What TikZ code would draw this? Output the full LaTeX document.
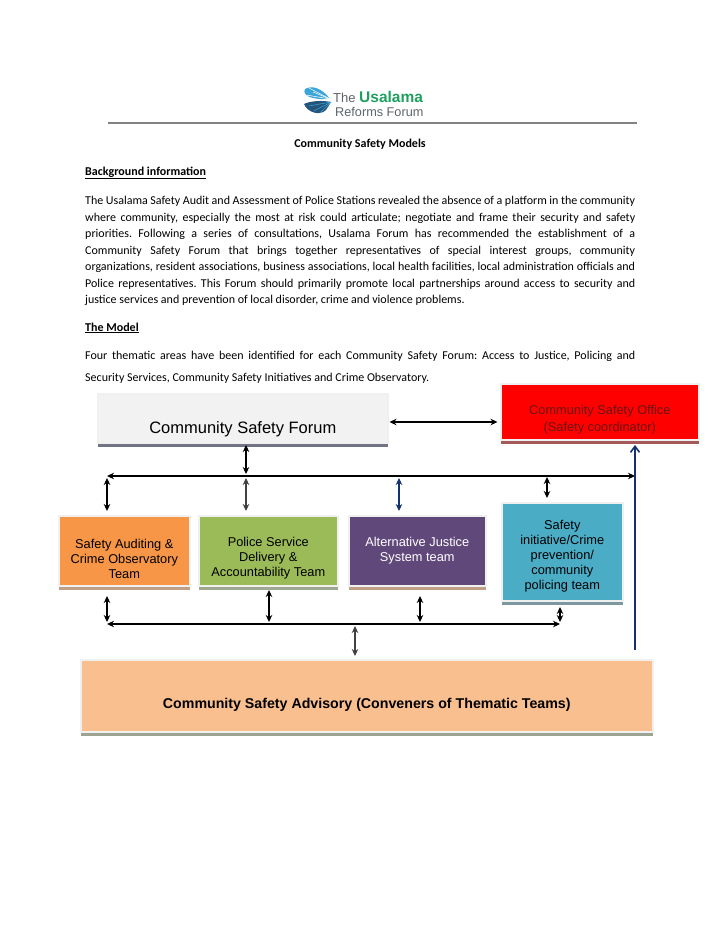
\documentclass[tikz,border=0pt]{standalone}
\usepackage{fontspec}
\setmainfont{Carlito}
\newfontfamily\boxfont{Liberation Sans}
\usetikzlibrary{positioning, calc, arrows.meta, shadows}
\definecolor{logogreen}{RGB}{30,160,95}
\definecolor{logogray}{RGB}{95,100,105}
\definecolor{logoblue}{RGB}{60,165,215}
\definecolor{logonavy}{RGB}{35,85,125}
\definecolor{rulegray}{RGB}{130,130,130}
\definecolor{forumgray}{RGB}{242,242,242}
\definecolor{officered}{RGB}{255,0,0}
\definecolor{officetext}{RGB}{105,20,20}
\definecolor{auditorange}{RGB}{247,150,70}
\definecolor{policegreen}{RGB}{155,187,89}
\definecolor{justicepurple}{RGB}{96,73,122}
\definecolor{initiativeblue}{RGB}{75,172,198}
\definecolor{advisorypeach}{RGB}{250,191,143}
\definecolor{linknavy}{RGB}{20,50,110}
\definecolor{linkgray}{RGB}{65,65,65}
\tikzset{
  bodytext/.style={anchor=north west, text width=550pt, align=justify, inner sep=0pt,
    font=\fontsize{12}{16.5}\selectfont\frenchspacing},
  headtext/.style={anchor=west, inner sep=0pt, font=\fontsize{12}{14}\selectfont\bfseries},
  teambox/.style={draw=black!6, line width=1.6pt, anchor=north west, align=center, inner sep=1pt,
    font=\boxfont\fontsize{12.8}{15}\selectfont},
  boxshadow/.style={drop shadow={shadow xshift=0pt, shadow yshift=-4.5pt, fill=#1, opacity=1}},
  twoway/.style={{Stealth[length=7pt,width=6.5pt]}-{Stealth[length=7pt,width=6.5pt]}, line width=1.1pt, draw=black},
  logofan/.style={fill=logoblue, draw=none},
  logofan2/.style={fill=logonavy, draw=none}
}
\begin{document}
\begin{tikzpicture}[x=1pt, y=-1pt]
  \useasboundingbox (0,0) rectangle (720,932);
  % letterhead
  \path[logofan] (330,99) .. controls (322,88) and (312,85) .. (305,89) .. controls (302,95) and (310,100) .. (330,99);
  \path[logofan2] (331,102) .. controls (322,100) and (310,101) .. (304,104) .. controls (308,113) and (320,116) .. (326,110) -- (331,102);
  \foreach \rayend in {(309,88),(313,92),(306,95)}
    \draw[white, line width=0.5pt] (330,99) -- \rayend;
  \foreach \rayend in {(309,106),(314,111),(320,113)}
    \draw[logoblue, line width=0.5pt] (331,102) -- \rayend;
  \node[anchor=base west, inner sep=0pt, font=\boxfont\fontsize{13}{16}\selectfont, text=logogray] (logothe) at (333,102) {The};
  \node[anchor=base west, inner sep=0pt, font=\boxfont\fontsize{15.5}{16}\selectfont\bfseries, text=logogreen] (logoname) at (359,102) {Usalama};
  \node[anchor=base west, inner sep=0pt, font=\boxfont\fontsize{12.7}{16}\selectfont, text=logogray] (logosub) at (335,116) {Reforms Forum};
  \fill[rulegray] (108,121.5) rectangle (637,124);
  \node[inner sep=0pt, font=\fontsize{12}{14}\selectfont\bfseries] (title) at (360,144) {Community Safety Models};

  % text
  \node[headtext] (bghead) at (85,173) {\underline{Background information}};
  \node[bodytext] (bgtext) at (85,196) {The Usalama Safety Audit and Assessment of Police Stations revealed the absence of a platform in the community\linebreak
    where community, especially the most at risk could articulate; negotiate and frame their security and safety\linebreak
    priorities. Following a series of consultations, Usalama Forum has recommended the establishment of a\linebreak
    Community Safety Forum that brings together representatives of special interest groups, community\linebreak
    organizations, resident associations, business associations, local health facilities, local administration officials and\linebreak
    Police representatives. This Forum should primarily promote local partnerships around access to security and\linebreak
    justice services and prevention of local disorder, crime and violence problems.};
  \node[headtext] (modelhead) at (85,328) {\underline{The Model}};
  \node[bodytext, font=\fontsize{12}{22}\selectfont\frenchspacing] (modeltext) at (85,351) {Four thematic areas have been identified for each Community Safety Forum: Access to Justice, Policing and\linebreak
    Security Services, Community Safety Initiatives and Crime Observatory.};

  % boxes
  \node[teambox, boxshadow={black!25!blue!10!gray}, fill=forumgray, minimum width=290pt, minimum height=49pt, font=\boxfont\fontsize{16.5}{20}\selectfont] (forum) at (97,393) {\mbox{}\\[14pt]Community Safety Forum};
  \node[teambox, boxshadow={red!30!gray}, fill=officered, minimum width=198pt, minimum height=56pt, text=officetext] (office) at (500,383) {\mbox{}\\[10pt]Community Safety Office\\[2pt](Safety coordinator)};
  \node[teambox, boxshadow={auditorange!40!gray!80}, fill=auditorange, minimum width=131pt, minimum height=70pt] (audit) at (58,515) {\mbox{}\\[10pt]Safety Auditing \&\\Crime Observatory\\Team};
  \node[teambox, boxshadow={policegreen!30!gray!80}, fill=policegreen, minimum width=139pt, minimum height=70pt] (police) at (198,515) {\mbox{}\\[10pt]Police Service\\Delivery \&\\Accountability Team};
  \node[teambox, boxshadow={auditorange!40!gray!80}, fill=justicepurple, minimum width=137pt, minimum height=70pt, text=white] (justice) at (348,515) {Alternative Justice\\System team};
  \node[teambox, boxshadow={initiativeblue!30!gray!90}, fill=initiativeblue, minimum width=121pt, minimum height=98pt] (initiative) at (501,502) {\mbox{}\\[3pt]Safety\\initiative/Crime\\prevention/\\community\\policing team};
  \node[teambox, boxshadow={policegreen!20!gray!80}, fill=advisorypeach, minimum width=572pt, minimum height=72pt, font=\boxfont\fontsize{14.2}{16}\selectfont\bfseries] (advisory) at (80,659) {\mbox{}\\[12pt]Community Safety Advisory (Conveners of Thematic Teams)};

  % upper links
  \coordinate (busleft) at (107,476);
  \coordinate (busright) at (635,476);
  \coordinate (bottomleft) at (107,624);
  \coordinate (bottomright) at (560,624);
  \coordinate (officelink) at (635,445);
  \coordinate (advisorylink) at (635,650);
  \draw[twoway] (busleft) -- (busright);
  \draw[twoway] (bottomleft) -- (bottomright);
  \draw[twoway] (389.5,422) -- (497.5,422);
  \draw[twoway] (246,445) -- (246,474);
  \draw[twoway, line width=1.4pt] (107,478) -- (107,511);
  \draw[twoway, draw=linkgray, line width=1.4pt] (246,478) -- (246,511);
  \draw[twoway, draw=linknavy] (399,478) -- (399,511);
  \draw[twoway] (547,477) -- (547,498);
  \draw[draw=linknavy, line width=1.6pt, -{Straight Barb[length=6pt,width=9pt]}] (advisorylink) -- (officelink);

  % lower links
  \draw[twoway] (107,596) -- (107,622);
  \draw[twoway, line width=1.4pt] (269,590) -- (269,622);
  \draw[twoway] (420,596) -- (420,622);
  \draw[twoway] (560,607) -- (560,622);
  \draw[twoway, draw=linkgray] (355,626) -- (355,656);
\end{tikzpicture}
\end{document}
